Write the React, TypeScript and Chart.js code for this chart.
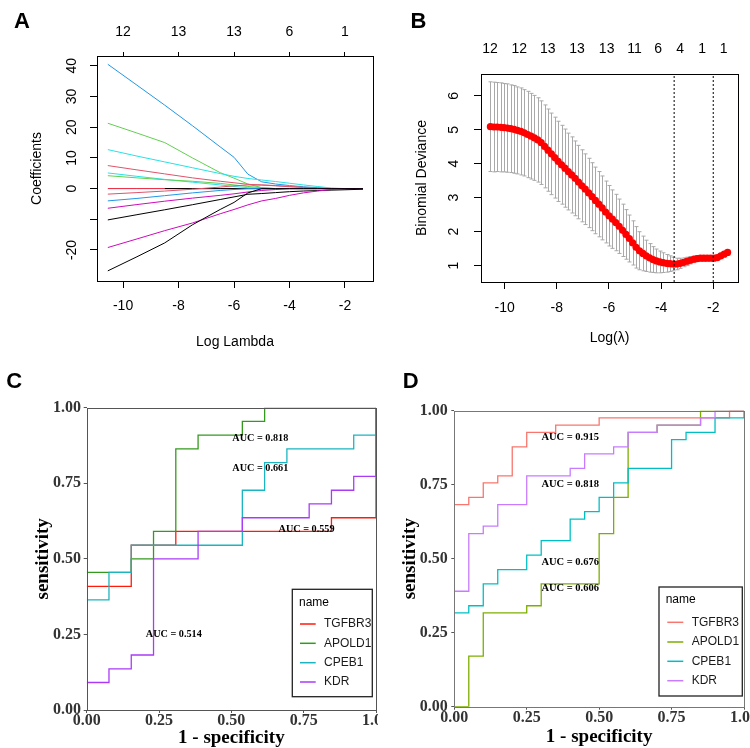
import React, { useEffect, useRef } from 'react';
import { Chart, registerables } from 'chart.js';

Chart.register(...registerables);

const SANS = '"Liberation Sans", Arial, Helvetica, sans-serif';
const SERIF = '"Liberation Serif", "Times New Roman", Times, serif';

// ================= Panel A : coefficient paths =================
const A_LOGLAMBDA = [-10.55, -9.5, -8.5, -7.5, -6.5, -6.0, -5.5, -5.0, -4.5, -4.0, -3.5, -3.0, -2.5, -2.0, -1.35];
const A_BLUE_1 = [40.5, 33.7, 27.2, 20.5, 13.6, 10.2, 4.7, 2.2, 1.5, 1.0, 0.6, 0.3, 0.05, 0, 0];
const A_GREEN_1 = [21.3, 18.1, 15.0, 10.0, 5.2, 3.4, 1.5, 0.3, 0, 0, 0, 0, 0, 0, 0];
const A_CYAN_1 = [12.7, 10.6, 8.7, 6.8, 4.9, 4.0, 3.3, 2.8, 2.3, 1.75, 1.2, 0.7, 0.2, 0, 0];
const A_RED_1 = [7.5, 6.1, 4.8, 3.5, 2.4, 1.9, 1.4, 1.15, 0.9, 0.6, 0.4, 0.15, 0, 0, 0];
const A_CYAN_2 = [5.1, 4.0, 3.0, 2.1, 1.2, 0.7, 0.3, 0.1, 0, 0, 0, 0, 0, 0, 0];
const A_GREEN_2 = [4.2, 3.5, 2.9, 2.4, 1.7, 1.2, 0.7, 0.3, 0, 0, 0, 0, 0, 0, 0];
const A_RED_0 = [0, 0, 0, 0, 0, 0, 0, 0, 0, 0, 0, 0, 0, 0, 0];
const A_RED_2 = [-1.8, -1.3, -0.8, -0.2, 0.5, 0.9, 1.2, 1.2, 1.0, 0.7, 0.4, 0.1, 0, 0, 0];
const A_BLUE_2 = [-4.0, -3.2, -2.3, -1.4, -0.6, -0.3, 0, 0, 0, 0, 0, 0, 0, 0, 0];
const A_MAGENTA_1 = [-6.4, -5.2, -4.1, -3.1, -2.2, -1.7, -1.1, -0.6, -0.3, 0, 0, 0, 0, 0, 0];
const A_BLACK_1 = [-10.2, -8.5, -6.9, -5.25, -3.55, -2.7, -1.85, -1.6, -1.3, -1.0, -0.78, -0.65, -0.5, -0.38, -0.2];
const A_MAGENTA_2 = [-19.2, -16.4, -13.7, -11.2, -8.2, -6.8, -5.3, -4.0, -3.2, -2.2, -1.4, -0.8, -0.3, 0, 0];
const A_BLACK_2 = [-26.8, -22.2, -17.7, -11.8, -6.8, -4.5, -1.4, 0, 0, 0, 0, 0, 0, 0, 0];
const A_BLACK_3 = [null, null, 0, 0, 0, 0, 0, 0, 0, null, null, null, null, null, null];

const A_X_TICKS = [-10, -8, -6, -4, -2];
const A_TOP_POS = [-10, -8, -6, -4, -2];
const A_TOP_LABELS = ['12', '13', '13', '6', '1'];
const A_Y_TICKS = [-20, -10, 0, 10, 20, 30, 40];
const A_Y_LABELS = ['-20', '', '0', '10', '20', '30', '40'];

// ================= Panel B : cross-validation curve =================
const B_LOGLAMBDA = [
  -10.55, -10.42, -10.29, -10.16, -10.03, -9.90, -9.77, -9.64, -9.51, -9.38,
  -9.25, -9.12, -8.99, -8.86, -8.73, -8.60, -8.47, -8.34, -8.21, -8.08,
  -7.95, -7.82, -7.69, -7.56, -7.43, -7.30, -7.17, -7.04, -6.91, -6.78,
  -6.65, -6.52, -6.39, -6.26, -6.13, -6.00, -5.87, -5.74, -5.61, -5.48,
  -5.35, -5.22, -5.09, -4.96, -4.83, -4.70, -4.57, -4.44, -4.31, -4.18,
  -4.05, -3.92, -3.79, -3.66, -3.53, -3.40, -3.27, -3.14, -3.01, -2.88,
  -2.75, -2.62, -2.49, -2.36, -2.23, -2.10, -1.97, -1.84, -1.71, -1.58,
  -1.45,
];
const B_CVM = [
  5.09, 5.08, 5.08, 5.07, 5.06, 5.05, 5.03, 5.01, 4.98, 4.95,
  4.91, 4.86, 4.81, 4.76, 4.70, 4.62, 4.51, 4.40, 4.29, 4.18,
  4.07, 3.97, 3.87, 3.77, 3.67, 3.57, 3.46, 3.35, 3.25, 3.14,
  3.03, 2.92, 2.81, 2.70, 2.58, 2.47, 2.37, 2.27, 2.16, 2.04,
  1.92, 1.80, 1.67, 1.54, 1.44, 1.36, 1.29, 1.23, 1.18, 1.14,
  1.11, 1.09, 1.07, 1.06, 1.05, 1.05, 1.07, 1.10, 1.13, 1.16,
  1.19, 1.21, 1.22, 1.22, 1.22, 1.22, 1.22, 1.24, 1.29, 1.34,
  1.39,
];
const B_CVSD = [
  1.32, 1.32, 1.31, 1.31, 1.30, 1.30, 1.29, 1.29, 1.28, 1.28,
  1.27, 1.27, 1.26, 1.25, 1.24, 1.23, 1.22, 1.21, 1.20, 1.19,
  1.18, 1.16, 1.15, 1.13, 1.12, 1.10, 1.08, 1.06, 1.04, 1.02,
  1.00, 0.98, 0.96, 0.94, 0.91, 0.89, 0.86, 0.83, 0.80, 0.77,
  0.73, 0.69, 0.65, 0.61, 0.56, 0.51, 0.46, 0.42, 0.38, 0.35,
  0.32, 0.29, 0.26, 0.23, 0.20, 0.17, 0.15, 0.13, 0.12, 0.11,
  0.10, 0.09, 0.08, 0.08, 0.07, 0.07, 0.07, 0.07, 0.07, 0.07,
  0.07,
];
const B_LAMBDA_MIN = -3.5;
const B_LAMBDA_1SE = -2.0;
const B_X_TICKS = [-10, -8, -6, -4, -2];
const B_TOP_POS = [-10.56, -9.44, -8.35, -7.23, -6.09, -5.02, -4.11, -3.27, -2.43, -1.60];
const B_TOP_LABELS = ['12', '12', '13', '13', '13', '11', '6', '4', '1', '1'];
const B_Y_TICKS = [1, 2, 3, 4, 5, 6];
const B_Y_LABELS = ['1', '2', '3', '4', '5', '6'];

// ================= Panel C : ROC (training) =================
const ROC_NAMES = ['TGFBR3', 'APOLD1', 'CPEB1', 'KDR'];
const ROC_TICKS = [0, 0.25, 0.5, 0.75, 1];
const LEGEND_TITLE = 'name';

const C_TGFBR3_FPR = [0, 0.154, 0.308, 0.846, 1];
const C_TGFBR3_TPR = [0.409, 0.545, 0.591, 0.636, 1];
const C_APOLD1_FPR = [0, 0.154, 0.231, 0.308, 0.385, 0.538, 0.615, 1];
const C_APOLD1_TPR = [0.455, 0.5, 0.591, 0.864, 0.909, 0.955, 1, 1];
const C_CPEB1_FPR = [0, 0.077, 0.154, 0.538, 0.615, 0.692, 0.923, 1];
const C_CPEB1_TPR = [0.364, 0.455, 0.545, 0.727, 0.818, 0.864, 0.909, 1];
const C_KDR_FPR = [0, 0.077, 0.154, 0.231, 0.385, 0.538, 0.769, 0.846, 0.923, 1];
const C_KDR_TPR = [0.091, 0.136, 0.182, 0.5, 0.591, 0.636, 0.682, 0.727, 0.773, 1];
const C_AUC = [0.559, 0.818, 0.661, 0.514];

// ================= Panel D : ROC (validation) =================
const D_TGFBR3_FPR = [0, 0.05, 0.1, 0.15, 0.2, 0.25, 0.35, 0.5, 0.95, 1];
const D_TGFBR3_TPR = [0.683, 0.707, 0.756, 0.780, 0.878, 0.927, 0.951, 0.976, 1, 1];
const D_APOLD1_FPR = [0, 0.05, 0.1, 0.25, 0.3, 0.5, 0.55, 0.6, 0.7, 0.85, 1];
const D_APOLD1_TPR = [0, 0.171, 0.317, 0.341, 0.415, 0.585, 0.707, 0.927, 0.951, 1, 1];
const D_CPEB1_FPR = [0, 0.05, 0.1, 0.15, 0.25, 0.3, 0.4, 0.45, 0.5, 0.55, 0.6, 0.75, 0.8, 0.9, 1];
const D_CPEB1_TPR = [0.317, 0.341, 0.415, 0.463, 0.512, 0.561, 0.634, 0.659, 0.707, 0.756, 0.805, 0.902, 0.927, 0.976, 1];
const D_KDR_FPR = [0, 0.05, 0.1, 0.15, 0.25, 0.4, 0.45, 0.55, 0.6, 0.7, 0.85, 0.9, 1];
const D_KDR_TPR = [0.390, 0.585, 0.610, 0.683, 0.780, 0.805, 0.854, 0.878, 0.927, 0.951, 0.976, 1, 1];
const D_AUC = [0.915, 0.606, 0.676, 0.818];

// ---------- styles / annotation layout ----------
const R_BLACK = '#000000';
const R_RED = '#DF536B';
const R_GREEN = '#61D04F';
const R_BLUE = '#2297E6';
const R_CYAN = '#28E2E5';
const R_MAGENTA = '#CD0BBC';

const C_COLORS = ['#FF1A0A', '#339A1E', '#1AB5C0', '#A93BF7'];
const D_COLORS = ['#F8766D', '#7CAE00', '#00BFC4', '#C77CFF'];

const C_AUC_POS = [[0.76, 0.598], [0.6, 0.897], [0.6, 0.798], [0.301, 0.249]];
const D_AUC_POS = [[0.4, 0.91], [0.4, 0.399], [0.4, 0.489], [0.4, 0.75]];

type Pt = { x: number; y: number };
const zip = (xs: number[], ys: (number | null)[]): Pt[] =>
  xs.map((x, i) => ({ x, y: ys[i] as number })).filter((p) => p.y !== null && p.y !== undefined);

// ---------- plugins ----------
const letterPlugin = (letter: string, x: number, y: number) => ({
  id: 'panelLetter',
  afterDraw(chart: any) {
    const ctx = chart.ctx;
    ctx.save();
    ctx.font = `bold 22px ${SANS}`;
    ctx.fillStyle = '#000';
    ctx.textAlign = 'left';
    ctx.textBaseline = 'alphabetic';
    ctx.fillText(letter, x, y);
    ctx.restore();
  },
});

const framePlugin = (color: string, lw: number) => ({
  id: 'frame',
  afterDatasetsDraw(chart: any) {
    const { ctx, chartArea } = chart;
    const l = Math.round(chartArea.left) + 0.5;
    const t = Math.round(chartArea.top) + 0.5;
    const r = Math.round(chartArea.right) + 0.5;
    const b = Math.round(chartArea.bottom) + 0.5;
    ctx.save();
    ctx.strokeStyle = color;
    ctx.lineWidth = lw;
    ctx.strokeRect(l, t, r - l, b - t);
    ctx.restore();
  },
});

const rotatedYLabels = (values: number[], labels: string[], cx: number) => ({
  id: 'rotY',
  afterDraw(chart: any) {
    const ctx = chart.ctx;
    const ys = chart.scales.y;
    ctx.save();
    ctx.font = `14px ${SANS}`;
    ctx.fillStyle = '#000';
    ctx.textAlign = 'center';
    ctx.textBaseline = 'middle';
    values.forEach((v, i) => {
      if (!labels[i]) return;
      const py = ys.getPixelForValue(v);
      ctx.save();
      ctx.translate(cx, py);
      ctx.rotate(-Math.PI / 2);
      ctx.fillText(labels[i], 0, 0);
      ctx.restore();
    });
    ctx.restore();
  },
});

const errorBarPlugin = {
  id: 'errorBars',
  beforeDatasetsDraw(chart: any) {
    const { ctx } = chart;
    const xs = chart.scales.x;
    const ys = chart.scales.y;
    ctx.save();
    ctx.strokeStyle = '#A9A9A9';
    ctx.lineWidth = 1;
    ctx.beginPath();
    B_LOGLAMBDA.forEach((lx, i) => {
      const px = Math.round(xs.getPixelForValue(lx)) + 0.5;
      const up = ys.getPixelForValue(B_CVM[i] + B_CVSD[i]);
      const lo = ys.getPixelForValue(B_CVM[i] - B_CVSD[i]);
      ctx.moveTo(px, up);
      ctx.lineTo(px, lo);
      ctx.moveTo(px - 2, up);
      ctx.lineTo(px + 2, up);
      ctx.moveTo(px - 2, lo);
      ctx.lineTo(px + 2, lo);
    });
    ctx.stroke();
    ctx.restore();
  },
};

const aucPlugin = (values: number[], pos: number[][], size: number) => ({
  id: 'aucLabels',
  afterDatasetsDraw(chart: any) {
    const { ctx } = chart;
    const xs = chart.scales.x;
    const ys = chart.scales.y;
    ctx.save();
    ctx.font = `bold ${size}px ${SERIF}`;
    ctx.fillStyle = '#000';
    ctx.textAlign = 'center';
    ctx.textBaseline = 'middle';
    values.forEach((v, i) => {
      ctx.fillText(`AUC = ${v.toFixed(3)}`, xs.getPixelForValue(pos[i][0]), ys.getPixelForValue(pos[i][1]));
    });
    ctx.restore();
  },
});

type LegendBox = { x: number; y: number; w: number; h: number; titleX: number; titleY: number; rows: number[]; lineX0: number; lineX1: number; textX: number };

const rocLegendPlugin = (L: LegendBox) => ({
  id: 'rocLegend',
  afterDraw(chart: any) {
    const ctx = chart.ctx;
    ctx.save();
    ctx.fillStyle = '#fff';
    ctx.fillRect(L.x, L.y, L.w, L.h);
    ctx.strokeStyle = '#222';
    ctx.lineWidth = 1.3;
    ctx.strokeRect(L.x, L.y, L.w, L.h);
    ctx.font = `12px ${SANS}`;
    ctx.textAlign = 'left';
    ctx.textBaseline = 'middle';
    ctx.fillStyle = '#000';
    ctx.fillText(LEGEND_TITLE, L.titleX, L.titleY);
    const items = chart.data.datasets.map((d: any) => ({ label: d.label, color: d.borderColor, idx: d.legendIndex }));
    items.sort((a: any, b: any) => a.idx - b.idx);
    items.forEach((it: any, i: number) => {
      const y = L.rows[i];
      ctx.strokeStyle = it.color;
      ctx.lineWidth = 1.5;
      ctx.beginPath();
      ctx.moveTo(L.lineX0, y);
      ctx.lineTo(L.lineX1, y);
      ctx.stroke();
      ctx.fillStyle = '#1a1a1a';
      ctx.fillText(it.label, L.textX, y);
    });
    ctx.restore();
  },
});

// ---------- axis builders ----------
const rBottomAxis = (min: number, max: number, ticks: number[], title: string, pad: number, titlePad: number, h: number) => ({
  type: 'linear',
  position: 'bottom',
  min,
  max,
  afterBuildTicks: (ax: any) => {
    ax.ticks = ticks.map((v) => ({ value: v }));
  },
  ticks: { autoSkip: false, maxRotation: 0, minRotation: 0, font: { family: SANS, size: 14 }, color: '#000', padding: pad, callback: (v: any) => String(v) },
  grid: { display: true, drawOnChartArea: false, drawTicks: true, tickLength: 7, color: '#000', lineWidth: 1 },
  border: { display: false },
  title: { display: true, text: title, font: { family: SANS, size: 14 }, color: '#000', padding: { top: 0, bottom: titlePad } },
  afterFit: (s: any) => {
    s.height = h;
    s.paddingLeft = 0;
    s.paddingRight = 0;
  },
});

const rTopAxis = (min: number, max: number, pos: number[], labels: string[], tickLen: number, pad: number, h: number) => ({
  type: 'linear',
  axis: 'x',
  position: 'top',
  min,
  max,
  afterBuildTicks: (ax: any) => {
    ax.ticks = pos.map((v) => ({ value: v }));
  },
  ticks: { autoSkip: false, maxRotation: 0, minRotation: 0, font: { family: SANS, size: 14 }, color: '#000', padding: pad, callback: (_v: any, i: number) => labels[i] ?? '' },
  grid: tickLen > 0
    ? { display: true, drawOnChartArea: false, drawTicks: true, tickLength: tickLen, color: '#000', lineWidth: 1 }
    : { display: false, drawTicks: false },
  border: { display: false },
  afterFit: (s: any) => {
    s.height = h;
    s.paddingLeft = 0;
    s.paddingRight = 0;
  },
});

const rLeftAxis = (min: number, max: number, ticks: number[], title: string, titlePad: number, w: number) => ({
  type: 'linear',
  position: 'left',
  min,
  max,
  afterBuildTicks: (ax: any) => {
    ax.ticks = ticks.map((v) => ({ value: v }));
  },
  ticks: { display: false },
  grid: { display: true, drawOnChartArea: false, drawTicks: true, tickLength: 7, color: '#000', lineWidth: 1 },
  border: { display: false },
  title: { display: true, text: title, font: { family: SANS, size: 14 }, color: '#000', padding: { top: titlePad, bottom: 0 } },
  afterFit: (s: any) => {
    s.width = w;
    s.paddingTop = 0;
    s.paddingBottom = 0;
  },
});

const rocXAxis = (pad: number, titlePad: number, h: number) => ({
  type: 'linear',
  position: 'bottom',
  min: 0,
  max: 1,
  afterBuildTicks: (ax: any) => {
    ax.ticks = ROC_TICKS.map((v) => ({ value: v }));
  },
  ticks: { autoSkip: false, maxRotation: 0, minRotation: 0, font: { family: SERIF, size: 16, weight: 'bold' }, color: '#333', padding: pad, callback: (v: any) => Number(v).toFixed(2) },
  grid: { display: true, drawOnChartArea: false, drawTicks: true, tickLength: 3, color: '#555', lineWidth: 1 },
  border: { display: false },
  title: { display: true, text: '1 - specificity', font: { family: SERIF, size: 19, weight: 'bold' }, color: '#000', padding: { top: 0, bottom: titlePad } },
  afterFit: (s: any) => {
    s.height = h;
    s.paddingLeft = 0;
    s.paddingRight = 0;
  },
});

const rocYAxis = (pad: number, titlePad: number, w: number) => ({
  type: 'linear',
  position: 'left',
  min: 0,
  max: 1,
  afterBuildTicks: (ax: any) => {
    ax.ticks = ROC_TICKS.map((v) => ({ value: v }));
  },
  ticks: { autoSkip: false, font: { family: SERIF, size: 16, weight: 'bold' }, color: '#333', padding: pad, callback: (v: any) => Number(v).toFixed(2) },
  grid: { display: true, drawOnChartArea: false, drawTicks: true, tickLength: 3, color: '#555', lineWidth: 1 },
  border: { display: false },
  title: { display: true, text: 'sensitivity', font: { family: SERIF, size: 19, weight: 'bold' }, color: '#000', padding: { top: titlePad, bottom: 0 } },
  afterFit: (s: any) => {
    s.width = w;
    s.paddingTop = 0;
    s.paddingBottom = 0;
  },
});

const baseOptions = (padding: any) => ({
  animation: false,
  responsive: false,
  maintainAspectRatio: false,
  devicePixelRatio: 1,
  layout: { padding },
  plugins: { legend: { display: false }, tooltip: { enabled: false }, title: { display: false } },
});

// ---------- chart configs ----------
const A_X_MIN = -10.94, A_X_MAX = -0.99, A_Y_MIN = -30.1, A_Y_MAX = 43.2;
const B_X_MIN = -10.91, B_X_MAX = -1.05, B_Y_MIN = 0.52, B_Y_MAX = 6.64;

function configA(): any {
  const paths = [
    { values: A_BLACK_2, color: R_BLACK },
    { values: A_MAGENTA_2, color: R_MAGENTA },
    { values: A_BLACK_1, color: R_BLACK },
    { values: A_MAGENTA_1, color: R_MAGENTA },
    { values: A_BLUE_2, color: R_BLUE },
    { values: A_RED_2, color: R_RED },
    { values: A_BLACK_3, color: R_BLACK },
    { values: A_RED_0, color: '#E8203A' },
    { values: A_GREEN_2, color: R_GREEN },
    { values: A_CYAN_2, color: R_CYAN },
    { values: A_RED_1, color: R_RED },
    { values: A_CYAN_1, color: R_CYAN },
    { values: A_GREEN_1, color: R_GREEN },
    { values: A_BLUE_1, color: R_BLUE },
  ];
  return {
    type: 'line',
    data: {
      datasets: paths.map((p) => ({
        data: zip(A_LOGLAMBDA, p.values),
        borderColor: p.color,
        borderWidth: 1,
        pointRadius: 0,
        fill: false,
        tension: 0,
      })),
    },
    options: {
      ...baseOptions({ left: 0, right: 2, top: 0, bottom: 0 }),
      scales: {
        x: rBottomAxis(A_X_MIN, A_X_MAX, A_X_TICKS, 'Log Lambda', 9.6, 9.9, 79),
        xTop: rTopAxis(A_X_MIN, A_X_MAX, A_TOP_POS, A_TOP_LABELS, 4, 11.9, 56),
        y: rLeftAxis(A_Y_MIN, A_Y_MAX, A_Y_TICKS, 'Coefficients', 28.3, 97),
      },
    },
    plugins: [framePlugin('#000', 1), rotatedYLabels(A_Y_TICKS, A_Y_LABELS, 71.7), letterPlugin('A', 14, 28.3)],
  };
}

function configB(): any {
  return {
    type: 'line',
    data: {
      datasets: [
        {
          data: [{ x: B_LAMBDA_MIN, y: B_Y_MIN }, { x: B_LAMBDA_MIN, y: B_Y_MAX }],
          borderColor: '#000', borderWidth: 1, borderDash: [2, 2], pointRadius: 0, order: 0,
        },
        {
          data: [{ x: B_LAMBDA_1SE, y: B_Y_MIN }, { x: B_LAMBDA_1SE, y: B_Y_MAX }],
          borderColor: '#000', borderWidth: 1, borderDash: [2, 2], pointRadius: 0, order: 0,
        },
        {
          data: zip(B_LOGLAMBDA, B_CVM),
          showLine: false,
          pointRadius: 3.6,
          pointBackgroundColor: '#FF0000',
          pointBorderWidth: 0,
          pointBorderColor: 'rgba(0,0,0,0)',
          order: 1,
        },
      ],
    },
    options: {
      ...baseOptions({ left: 0, right: 12, top: 0, bottom: 0 }),
      scales: {
        x: rBottomAxis(B_X_MIN, B_X_MAX, B_X_TICKS, 'Log(\u03BB)', 10.9, 13.3, 78),
        xTop: rTopAxis(B_X_MIN, B_X_MAX, B_TOP_POS, B_TOP_LABELS, 0, 16.3, 74),
        y: rLeftAxis(B_Y_MIN, B_Y_MAX, B_Y_TICKS, 'Binomial Deviance', 38.3, 106),
      },
    },
    plugins: [errorBarPlugin, framePlugin('#000', 1), rotatedYLabels(B_Y_TICKS, B_Y_LABELS, 79.3), letterPlugin('B', 35.5, 27.5)],
  };
}

function rocDatasets(fprs: number[][], tprs: number[][], colors: string[]) {
  return ROC_NAMES.map((name, i) => ({
    label: name,
    legendIndex: i,
    data: zip(fprs[i], tprs[i]),
    borderColor: colors[i],
    borderWidth: 1.3,
    pointRadius: 0,
    stepped: 'before',
    fill: false,
    order: ROC_NAMES.length - i,
  }));
}

function configC(): any {
  return {
    type: 'line',
    data: {
      datasets: rocDatasets(
        [C_TGFBR3_FPR, C_APOLD1_FPR, C_CPEB1_FPR, C_KDR_FPR],
        [C_TGFBR3_TPR, C_APOLD1_TPR, C_CPEB1_TPR, C_KDR_TPR],
        C_COLORS,
      ),
    },
    options: {
      ...baseOptions({ left: 0, right: 2, top: 47.7, bottom: 0 }),
      scales: { x: rocXAxis(-1.3, -1.9, 38), y: rocYAxis(2.7, 31.6, 86.7) },
    },
    plugins: [
      framePlugin('#555', 1),
      aucPlugin(C_AUC, C_AUC_POS, 10.2),
      rocLegendPlugin({ x: 292.3, y: 229.3, w: 80, h: 107.4, titleX: 299, titleY: 242.7, rows: [264, 283.3, 302.7, 322], lineX0: 300, lineX1: 315.7, textX: 324 }),
      letterPlugin('C', 6.2, 28.3),
    ],
  };
}

function configD(): any {
  return {
    type: 'line',
    data: {
      datasets: rocDatasets(
        [D_TGFBR3_FPR, D_APOLD1_FPR, D_CPEB1_FPR, D_KDR_FPR],
        [D_TGFBR3_TPR, D_APOLD1_TPR, D_CPEB1_TPR, D_KDR_TPR],
        D_COLORS,
      ),
    },
    options: {
      ...baseOptions({ left: 0, right: 6, top: 50.7, bottom: 0 }),
      scales: { x: rocXAxis(-1.0, 0, 41.3), y: rocYAxis(3.6, 20.6, 76.3) },
    },
    plugins: [
      framePlugin('#777', 1),
      aucPlugin(D_AUC, D_AUC_POS, 10.5),
      rocLegendPlugin({ x: 281, y: 227, w: 83.3, h: 109, titleX: 287.7, titleY: 240, rows: [262.3, 282, 301.3, 320.7], lineX0: 289.3, lineX1: 305.3, textX: 313.7 }),
      letterPlugin('D', 24.8, 28.3),
    ],
  };
}

// ---------- components ----------
function ChartCanvas(props: { make: () => any; left: number; top: number; width: number; height: number }) {
  const ref = useRef<HTMLCanvasElement>(null);
  useEffect(() => {
    const chart = new Chart(ref.current as HTMLCanvasElement, props.make());
    return () => chart.destroy();
  }, []);
  return (
    <canvas
      ref={ref}
      width={props.width}
      height={props.height}
      style={{ position: 'absolute', left: props.left, top: props.top, width: props.width, height: props.height }}
    />
  );
}

export default function App() {
  return (
    <div style={{ position: 'fixed', left: 0, top: 0, width: 750, height: 748, background: '#fff', overflow: 'hidden' }}>
      <ChartCanvas make={configA} left={0} top={0} width={375} height={360} />
      <ChartCanvas make={configB} left={375} top={0} width={375} height={360} />
      <ChartCanvas make={configC} left={0} top={360} width={378} height={388} />
      <ChartCanvas make={configD} left={378} top={360} width={372} height={388} />
    </div>
  );
}
